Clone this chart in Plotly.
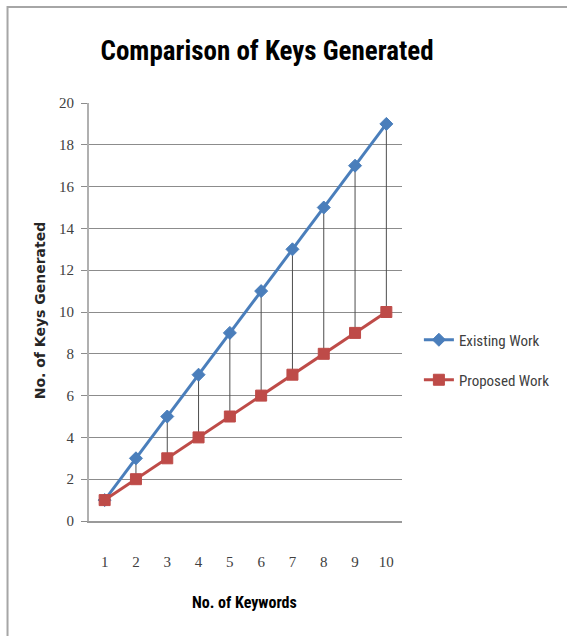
import plotly.graph_objects as go

# Chart data
keywords = [1, 2, 3, 4, 5, 6, 7, 8, 9, 10]
existing_work = [1, 3, 5, 7, 9, 11, 13, 15, 17, 19]
proposed_work = [1, 2, 3, 4, 5, 6, 7, 8, 9, 10]
y_ticks = [0, 2, 4, 6, 8, 10, 12, 14, 16, 18, 20]

BLUE = "#4A7EBB"
RED = "#BE4B48"
NARROW = "Liberation Sans Narrow, Roboto Condensed, Liberation Sans, sans-serif"

# High-low lines joining the two series at each keyword count
hl_x, hl_y = [], []
for k, e, p in zip(keywords, existing_work, proposed_work):
    hl_x += [k, k, None]
    hl_y += [e, p, None]

fig = go.Figure()
fig.add_trace(go.Scatter(
    x=hl_x, y=hl_y, mode="lines",
    line=dict(color="#4d4d4d", width=1),
    showlegend=False, hoverinfo="skip",
))
fig.add_trace(go.Scatter(
    x=keywords, y=existing_work, mode="lines+markers", name="Existing Work",
    line=dict(color=BLUE, width=3),
    marker=dict(symbol="diamond", size=10, color=BLUE, line=dict(color=BLUE, width=1)),
    legend="legend",
))
fig.add_trace(go.Scatter(
    x=keywords, y=proposed_work, mode="lines+markers", name="Proposed Work",
    line=dict(color=RED, width=3),
    marker=dict(symbol="square", size=11, color=RED, line=dict(color=RED, width=1)),
    legend="legend2",
))

legend_style = dict(
    font=dict(family=NARROW, size=15, color="#404040"),
    bgcolor="rgba(0,0,0,0)", borderwidth=0,
    xanchor="left", yanchor="middle", itemwidth=30,
)

fig.update_layout(
    width=567, height=636,
    margin=dict(l=89, r=163, t=103, b=115),
    paper_bgcolor="white", plot_bgcolor="white",
    title=dict(
        text="<b>Comparison of Keys Generated</b>",
        font=dict(family=NARROW, size=27, color="#000000"),
        x=0.471, xanchor="center", y=0.921, yanchor="middle",
    ),
    xaxis=dict(
        range=[0.5, 10.5], tickmode="array", tickvals=keywords,
        ticktext=[str(k) for k in keywords],
        showgrid=False, zeroline=False,
        showline=True, linecolor="#9a9a9a", linewidth=2,
        ticks="", ticklabelstandoff=26,
        tickfont=dict(family="Liberation Serif, serif", size=15, color="#404040"),
        fixedrange=True,
    ),
    yaxis=dict(
        range=[0, 20], tickmode="array", tickvals=y_ticks,
        showgrid=True, gridcolor="#8c8c8c", gridwidth=1,
        zeroline=False, showline=True, linecolor="#b0b0b0", linewidth=2,
        ticks="outside", ticklen=6, tickcolor="#8c8c8c", ticklabelstandoff=4,
        tickfont=dict(family="Liberation Serif, serif", size=15, color="#404040"),
        fixedrange=True,
    ),
    legend=dict(x=(421 - 89) / 315, y=(521 - 340) / 418, **legend_style),
    legend2=dict(x=(421 - 89) / 315, y=(521 - 380) / 418, **legend_style),
    annotations=[
        dict(
            text="<b>No. of Keywords</b>", xref="paper", yref="paper",
            x=(245 - 89) / 315, y=(521 - 602) / 418,
            xanchor="center", yanchor="middle", showarrow=False,
            font=dict(family=NARROW, size=16, color="#000000"),
        ),
        dict(
            text="<b>No. of Keys Generated</b>", xref="paper", yref="paper",
            x=(40 - 89) / 315, y=(521 - 310) / 418, textangle=-90,
            xanchor="center", yanchor="middle", showarrow=False,
            font=dict(family="DejaVu Sans, sans-serif", size=14, color="#262626"),
        ),
    ],
    shapes=[
        dict(
            type="rect", xref="paper", yref="paper",
            x0=(7 - 89) / 315, x1=(575 - 89) / 315,
            y0=(521 - 645) / 418, y1=(521 - 7) / 418,
            line=dict(color="#a6a6a6", width=2), fillcolor="rgba(0,0,0,0)",
            layer="below",
        ),
    ],
)

fig.write_html("out.html", config={"displayModeBar": False})
